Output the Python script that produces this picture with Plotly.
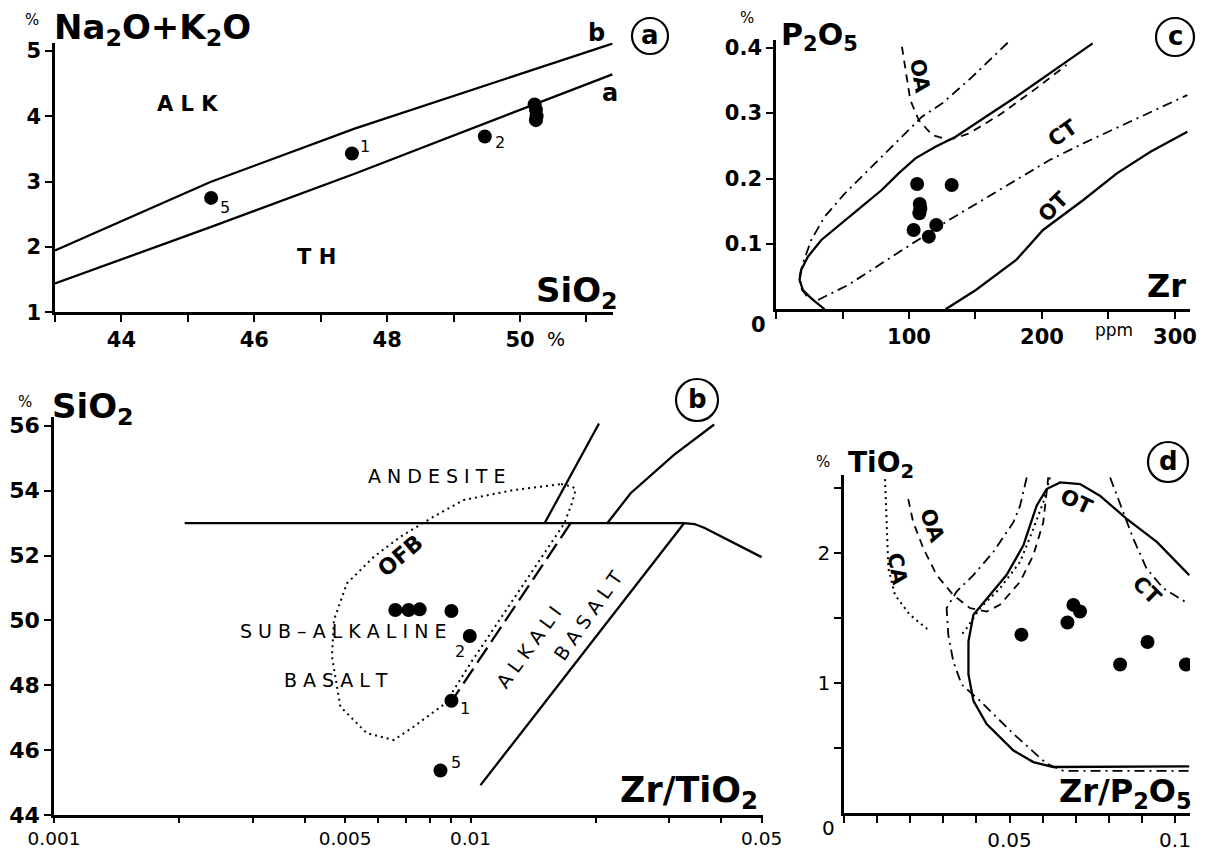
import math
import plotly.graph_objects as go

# The page body has an 8px margin, so the figure is made 8px smaller on each axis and every
# position below is given in window pixels and shifted by that offset.
WIN_W, WIN_H = 1208, 852
OFF = 8
W, H = WIN_W - OFF, WIN_H - OFF
FONT = "DejaVu Sans, Liberation Sans, sans-serif"

# ---------------- Panel a : Na2O+K2O vs SiO2 ----------------
a_line_b_x = [43.0, 45.33, 47.51, 51.39]
a_line_b_y = [1.945, 2.99, 3.81, 5.11]
a_line_a_x = [43.0, 45.33, 47.51, 51.39]
a_line_a_y = [1.44, 2.30, 3.12, 4.64]
a_pts_x = [47.47, 49.47, 45.35, 50.22, 50.24, 50.25, 50.24]
a_pts_y = [3.43, 3.69, 2.75, 4.18, 4.10, 4.00, 3.94]
a_lab_text = ["1", "2", "5"]
a_lab_x = [47.66, 49.70, 45.56]
a_lab_y = [3.53, 3.60, 2.60]
a_xticks = [44, 46, 48, 50]
a_xticktext = ["44", "46", "48", "50"]
a_xminor = [43, 45, 47, 49, 51]
a_yticks = [1, 2, 3, 4, 5]

# ---------------- Panel c : P2O5 vs Zr ----------------
c_solid_x = [238.1, 200.8, 180.6, 165.4, 150.3, 135.1, 119.9, 104.8, 92.2, 79.5,
             64.4, 49.2, 34.1, 24.0, 18.9, 17.7, 20.2, 26.5, 36.6]
c_solid_y = [0.4066, 0.3531, 0.3251, 0.3047, 0.2843, 0.2639, 0.2487, 0.2308, 0.2079,
             0.1824, 0.1569, 0.1315, 0.106, 0.0805, 0.0601, 0.0448, 0.0296, 0.0168, 0.0]
c_dashdot_x = [174.2, 147.7, 125.0, 109.8, 89.6, 69.4, 51.8, 36.6, 26.5, 20.2, 17.7,
               19.5, 24.0, 31.6, 54.3, 79.5, 104.8, 130.1, 155.3, 180.6, 205.8, 231.1,
               268.9, 309.3]
c_dashdot_y = [0.4076, 0.3557, 0.3149, 0.2945, 0.2538, 0.213, 0.1773, 0.1417, 0.106,
               0.0703, 0.0499, 0.030, 0.018, 0.0143, 0.0372, 0.0703, 0.1034, 0.1366,
               0.1671, 0.1977, 0.2283, 0.2538, 0.2894, 0.3276]
c_ot_x = [127.5, 150.3, 180.6, 200.8, 231.1, 256.3, 281.6, 309.3]
c_ot_y = [0.0, 0.0296, 0.0754, 0.1213, 0.1671, 0.2079, 0.241, 0.2716]
c_oa_x = [94.7, 98.5, 101.0, 107.3, 117.4, 130.1, 145.2, 167.9, 195.7, 218.4]
c_oa_y = [0.4015, 0.3557, 0.32, 0.2894, 0.2665, 0.2589, 0.269, 0.2971, 0.3378, 0.3735]
c_pts_x = [106.1, 132.1, 108.1, 108.6, 107.8, 103.5, 120.5, 114.9]
c_pts_y = [0.1916, 0.1901, 0.161, 0.154, 0.1468, 0.1213, 0.1289, 0.1111]
c_xticks = [100, 200, 300]
c_xticktext = ["100", "200", "300"]
c_xminor = [0, 50, 150, 250]
c_yticks = [0.1, 0.2, 0.3, 0.4]
c_yticktext = ["0.1", "0.2", "0.3", "0.4"]

# ---------------- Panel b : SiO2 vs Zr/TiO2 (log) ----------------
b_h_x = [0.00206, 0.0326, 0.0345, 0.0365, 0.05]
b_h_y = [53.0, 53.0, 52.97, 52.85, 51.95]
b_steep_x = [0.01507, 0.02035]
b_steep_y = [53.0, 56.07]
b_curve_x = [0.02132, 0.02424, 0.0308, 0.03846]
b_curve_y = [53.0, 53.92, 55.1, 56.04]
b_diag_x = [0.01057, 0.0326]
b_diag_y = [44.92, 53.0]
b_dash_x = [0.0174, 0.00904]
b_dash_y = [53.0, 47.54]
b_env_x = [0.0165, 0.0176, 0.01788, 0.0175, 0.0168, 0.0128, 0.0100, 0.0087, 0.0073,
           0.00654, 0.00564, 0.00487, 0.00465, 0.0047, 0.00505, 0.00586, 0.00679,
           0.00816, 0.00963, 0.0127, 0.0165]
b_env_y = [54.2, 54.12, 54.02, 53.6, 52.99, 50.73, 48.68, 47.44, 46.72, 46.31, 46.52,
           47.34, 48.88, 50.01, 51.14, 51.96, 52.58, 53.2, 53.71, 54.02, 54.2]
b_pts_x = [0.0066, 0.0071, 0.00755, 0.0090, 0.00996, 0.0090, 0.00847]
b_pts_y = [50.32, 50.32, 50.34, 50.29, 49.52, 47.52, 45.37]
b_lab_text = ["2", "1", "5"]
b_lab_x = [0.00945, 0.0097, 0.00925]
b_lab_y = [49.03, 47.29, 45.63]
b_xticks = [0.001, 0.005, 0.01, 0.05]
b_xticktext = ["0.001", "0.005", "0.01", "0.05"]
b_xminor = [0.002, 0.003, 0.004, 0.006, 0.007, 0.008, 0.009, 0.02, 0.03, 0.04]
b_yticks = [44, 46, 48, 50, 52, 54, 56]

# ---------------- Panel d : TiO2 vs Zr/P2O5 ----------------
d_ot_x = [0.1043, 0.0945, 0.0854, 0.0773, 0.0713, 0.0653, 0.0612, 0.0582, 0.0562,
          0.0542, 0.0491, 0.0431, 0.0391, 0.0376, 0.0376, 0.0391, 0.0431, 0.0512,
          0.0572, 0.0632, 0.1043]
d_ot_y = [1.832, 2.087, 2.265, 2.443, 2.532, 2.545, 2.494, 2.366, 2.214, 2.061, 1.832,
          1.654, 1.527, 1.323, 1.069, 0.865, 0.687, 0.483, 0.394, 0.356, 0.361]
d_ctl_x = [0.0552, 0.0532, 0.0512, 0.0451, 0.0391, 0.0340, 0.0310, 0.0315, 0.0330,
           0.0355, 0.0411, 0.0512, 0.0612, 0.0663, 0.1043]
d_ctl_y = [2.583, 2.366, 2.239, 2.010, 1.832, 1.705, 1.578, 1.374, 1.170, 0.992, 0.865,
           0.611, 0.382, 0.326, 0.326]
d_ctr_x = [0.0804, 0.0844, 0.0874, 0.0914, 0.0965, 0.1030]
d_ctr_y = [2.583, 2.316, 2.112, 1.883, 1.730, 1.628]
d_ca_x = [0.0124, 0.0129, 0.0134, 0.0154, 0.0199, 0.0260]
d_ca_y = [2.570, 2.163, 1.883, 1.679, 1.527, 1.400]
d_dot_x = [0.0622, 0.0602, 0.0572, 0.0532, 0.0471, 0.0411, 0.0371, 0.0355]
d_dot_y = [2.583, 2.392, 2.188, 1.934, 1.730, 1.578, 1.425, 1.374]
d_oa_x = [0.0194, 0.0209, 0.0240, 0.0280, 0.0330, 0.0381, 0.0431, 0.0471, 0.0532,
          0.0572, 0.0602, 0.0612, 0.0617]
d_oa_y = [2.417, 2.239, 2.036, 1.832, 1.679, 1.578, 1.552, 1.603, 1.781, 1.985, 2.239,
          2.468, 2.583]
d_pts_x = [0.0536, 0.0693, 0.0713, 0.0675, 0.0917, 0.0834, 0.1033]
d_pts_y = [1.374, 1.603, 1.552, 1.468, 1.318, 1.145, 1.145]
d_xticks = [0.05, 0.1]
d_xticktext = ["0.05", "0.1"]
d_xminor = [0, 0.01, 0.02, 0.03, 0.04, 0.06, 0.07, 0.08, 0.09]
d_yticks = [1, 2]
d_yticktext = ["1", "2"]
d_yminor = [0.5, 1.5, 2.5]

# ---------------- helpers (window pixels -> paper fractions) ----------------
def px(x):
    return (x - OFF) / W

def py(y):
    return 1 - (y - OFF) / H

SOLID = dict(color="black", width=2.3)
DASHDOT = dict(color="black", width=1.8, dash="10px,5px,2px,5px")
DOTTED = dict(color="black", width=2, dash="2px,4px")
DASHED = dict(color="black", width=1.8, dash="8px,6px")
LONGDASH = dict(color="black", width=2.3, dash="18px,7px")
MARK = dict(size=14, color="black")

fig = go.Figure()

def line(x, y, style, xa, ya):
    fig.add_trace(go.Scatter(x=x, y=y, mode="lines", line=style, xaxis=xa, yaxis=ya,
                             hoverinfo="skip", showlegend=False))

def pts(x, y, xa, ya):
    fig.add_trace(go.Scatter(x=x, y=y, mode="markers", marker=MARK, xaxis=xa, yaxis=ya,
                             showlegend=False))

# panel a
line(a_line_b_x, a_line_b_y, SOLID, "x", "y")
line(a_line_a_x, a_line_a_y, SOLID, "x", "y")
pts(a_pts_x, a_pts_y, "x", "y")
# panel c
line(c_solid_x, c_solid_y, SOLID, "x2", "y2")
line(c_dashdot_x, c_dashdot_y, DASHDOT, "x2", "y2")
line(c_ot_x, c_ot_y, SOLID, "x2", "y2")
line(c_oa_x, c_oa_y, DASHED, "x2", "y2")
pts(c_pts_x, c_pts_y, "x2", "y2")
# panel b
line(b_h_x, b_h_y, SOLID, "x3", "y3")
line(b_steep_x, b_steep_y, SOLID, "x3", "y3")
line(b_curve_x, b_curve_y, SOLID, "x3", "y3")
line(b_diag_x, b_diag_y, SOLID, "x3", "y3")
line(b_dash_x, b_dash_y, LONGDASH, "x3", "y3")
line(b_env_x, b_env_y, DOTTED, "x3", "y3")
pts(b_pts_x, b_pts_y, "x3", "y3")
# panel d
line(d_ot_x, d_ot_y, SOLID, "x4", "y4")
line(d_ctl_x, d_ctl_y, DASHDOT, "x4", "y4")
line(d_ctr_x, d_ctr_y, DASHDOT, "x4", "y4")
line(d_ca_x, d_ca_y, DOTTED, "x4", "y4")
line(d_dot_x, d_dot_y, DOTTED, "x4", "y4")
line(d_oa_x, d_oa_y, DASHED, "x4", "y4")
pts(d_pts_x, d_pts_y, "x4", "y4")

AX = dict(showgrid=False, zeroline=False, showline=True, linecolor="black", linewidth=2.5,
          ticks="outside", ticklen=7, tickwidth=2, tickcolor="black", mirror=False,
          fixedrange=True, automargin=False, tickmode="array")

def minor(vals, ln=7):
    return dict(tickmode="array", tickvals=vals, ticks="outside", ticklen=ln, tickwidth=2,
                tickcolor="black", showgrid=False)

def bold(lst):
    return ["<b>%s</b>" % t for t in lst]

TF_B = dict(family=FONT, size=21, color="black")
TF_N = dict(family=FONT, size=20, color="black")

fig.update_layout(
    template="none",
    width=W, height=H, margin=dict(l=0, r=0, t=0, b=0, pad=0, autoexpand=False),
    paper_bgcolor="white", plot_bgcolor="white",
    font=dict(family=FONT, color="black"),
    showlegend=False,
    # panel a
    xaxis=dict(AX, domain=[px(55), px(613)], range=[43, 51.40], anchor="y",
               tickvals=a_xticks, ticktext=bold(a_xticktext), tickfont=TF_B,
               minor=minor(a_xminor)),
    yaxis=dict(AX, domain=[py(312.3), py(43)], range=[1, 5.12], anchor="x",
               tickvals=a_yticks, ticktext=bold([str(v) for v in a_yticks]), tickfont=TF_B),
    # panel c
    xaxis2=dict(AX, domain=[px(776), px(1190)], range=[0, 311.3], anchor="y2",
                tickvals=c_xticks, ticktext=bold(c_xticktext), tickfont=TF_B,
                minor=minor(c_xminor)),
    yaxis2=dict(AX, domain=[py(309.3), py(40)], range=[0, 0.4118], anchor="x2",
                tickvals=c_yticks, ticktext=bold(c_yticktext), tickfont=TF_B),
    # panel b
    xaxis3=dict(AX, type="log", domain=[px(54), px(763)], range=[-3, -1.2977], anchor="y3",
                tickvals=b_xticks, ticktext=b_xticktext, ticklen=5,
                tickfont=dict(family=FONT, size=18.5, color="black"),
                minor=minor(b_xminor, 5)),
    yaxis3=dict(AX, domain=[py(815), py(417)], range=[44, 56.27], anchor="x3",
                tickvals=b_yticks, ticktext=bold([str(v) for v in b_yticks]),
                tickfont=dict(family=FONT, size=22, color="black")),
    # panel d
    xaxis4=dict(AX, domain=[px(844), px(1190)], range=[0, 0.10453], anchor="y4",
                tickvals=d_xticks, ticktext=d_xticktext, tickfont=TF_N,
                minor=minor(d_xminor)),
    yaxis4=dict(AX, domain=[py(813.3), py(475)], range=[0, 2.602], anchor="x4",
                tickvals=d_yticks, ticktext=d_yticktext, tickfont=TF_N,
                minor=minor(d_yminor)),
)

ann = []

def paper_text(text, x, y, size, xanchor="center", yanchor="middle", bold_=False):
    ann.append(dict(text=("<b>%s</b>" % text) if bold_ else text, x=px(x), y=py(y),
                    xref="paper", yref="paper", showarrow=False, xanchor=xanchor,
                    yanchor=yanchor, font=dict(family=FONT, size=size, color="black")))

def data_text(text, x, y, xr, yr, size, angle=0, bold_=False, xanchor="center"):
    ann.append(dict(text=("<b>%s</b>" % text) if bold_ else text, x=x, y=y, xref=xr,
                    yref=yr, showarrow=False, textangle=angle, xanchor=xanchor,
                    yanchor="middle", font=dict(family=FONT, size=size, color="black")))

# --- panel a texts
paper_text("%", 32, 20, 15)
paper_text("Na<sub>2</sub>O+K<sub>2</sub>O", 52, 30, 34, xanchor="left", bold_=True)
paper_text("SiO<sub>2</sub>", 577, 292, 34, bold_=True)
paper_text("%", 556, 339, 19)
paper_text("b", 596, 33, 24, bold_=True)
data_text("A L K", 45.0, 4.19, "x", "y", 21, bold_=True)
data_text("T H", 46.94, 1.84, "x", "y", 21, bold_=True)
data_text("a", 51.35, 4.35, "x", "y", 24, bold_=True)
for t, x, y in zip(a_lab_text, a_lab_x, a_lab_y):
    data_text(t, x, y, "x", "y", 16)

# --- panel c texts
paper_text("%", 747, 18, 15)
paper_text("P<sub>2</sub>O<sub>5</sub>", 779, 36, 30, xanchor="left", bold_=True)
paper_text("Zr", 1166, 286, 32, bold_=True)
paper_text("0", 758, 325, 21, bold_=True)
paper_text("ppm", 1114, 330, 17)
data_text("OA", 107.8, 0.356, "x2", "y2", 21, angle=80, bold_=True)
data_text("CT", 215.9, 0.269, "x2", "y2", 21, angle=-35, bold_=True)
data_text("OT", 208.3, 0.157, "x2", "y2", 21, angle=-45, bold_=True)

# --- panel b texts
paper_text("%", 25, 402, 15)
paper_text("SiO<sub>2</sub>", 50, 408, 34, xanchor="left", bold_=True)
paper_text("Zr/TiO<sub>2</sub>", 689, 792, 35, bold_=True)
L = math.log10
data_text("A N D E S I T E", L(0.00829), 54.45, "x3", "y3", 19)
data_text("OFB", L(0.0068), 52.0, "x3", "y3", 22, angle=-40, bold_=True)
data_text("S U B – A L K A L I N E", L(0.00495), 49.67, "x3", "y3", 19)
data_text("B A S A L T", L(0.00476), 48.16, "x3", "y3", 19)
data_text("A L K A L I", L(0.01379), 49.18, "x3", "y3", 19, angle=-54)
data_text("B A S A L T", L(0.0192), 50.16, "x3", "y3", 19, angle=-55)
for t, x, y in zip(b_lab_text, b_lab_x, b_lab_y):
    data_text(t, L(x), y, "x3", "y3", 16)

# --- panel d texts
paper_text("%", 823, 462, 15)
paper_text("TiO<sub>2</sub>", 846, 464, 28, xanchor="left", bold_=True)
paper_text("Zr/P<sub>2</sub>O<sub>5</sub>", 1125, 793, 32, bold_=True)
paper_text("0", 828, 828, 20)
data_text("OT", 0.0703, 2.392, "x4", "y4", 21, angle=25, bold_=True)
data_text("CT", 0.0914, 1.718, "x4", "y4", 21, angle=45, bold_=True)
data_text("OA", 0.0265, 2.214, "x4", "y4", 21, angle=70, bold_=True)
data_text("CA", 0.0159, 1.883, "x4", "y4", 21, angle=80, bold_=True)

# circled panel letters
circles = [("a", 650, 36, 18), ("c", 1175, 37, 19), ("b", 697, 400, 21), ("d", 1168, 462, 20)]
shapes = []
for letter, cx, cy, r in circles:
    shapes.append(dict(type="circle", xref="paper", yref="paper", x0=px(cx - r), x1=px(cx + r),
                       y0=py(cy + r), y1=py(cy - r), line=dict(color="black", width=2.2)))
    paper_text(letter, cx, cy - 1, 26, bold_=True)

fig.update_layout(annotations=ann, shapes=shapes)
fig.write_html("out.html")
